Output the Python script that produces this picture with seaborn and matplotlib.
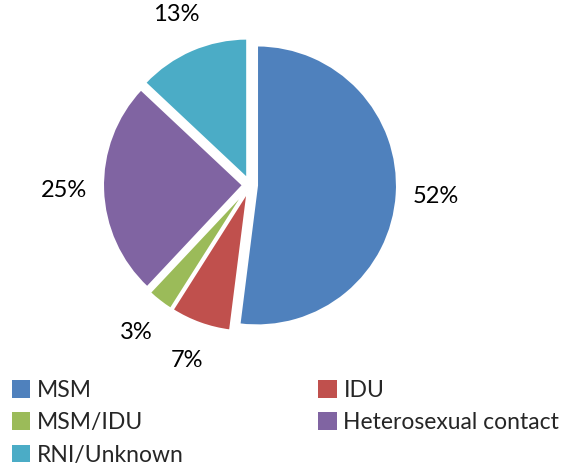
import matplotlib
matplotlib.use("Agg")
import matplotlib.pyplot as plt
from matplotlib.patches import Patch
import seaborn as sns

# data
groups = ["MSM", "IDU", "MSM/IDU", "Heterosexual contact", "RNI/Unknown"]
shares = [52, 7, 3, 25, 13]
colors = ["#4F81BD", "#C0504D", "#9BBB59", "#8064A2", "#4BACC6"]

sns.set_theme(style="white")
plt.rcParams['font.family'] = ['Lato', 'DejaVu Sans']

fig = plt.figure(figsize=(5.7, 4.68), dpi=100)
W, H = 570, 468
cx, cy, r = 250, 185, 140
half = 1.3 * r
ax = fig.add_axes([(cx - half) / W, (H - cy - half) / H, 2 * half / W, 2 * half / H])

pal = sns.color_palette(colors)
wedges, texts, autotexts = ax.pie(
    shares, colors=pal, startangle=90, counterclock=False,
    explode=[0.05] * len(shares),
    autopct=lambda p: f"{p:.0f}%", pctdistance=1.28,
    wedgeprops=dict(edgecolor="white", linewidth=1.5),
    textprops=dict(fontsize=17, color="black"),
)
ax.set_xlim(-1.3, 1.3)
ax.set_ylim(-1.3, 1.3)
ax.set_aspect("equal")
ax.axis("off")

order = [0, 2, 4, 1, 3]
handles = [Patch(facecolor=colors[i], edgecolor="none") for i in order]
labels = [groups[i] for i in order]
fig.legend(handles, labels, ncol=2, loc="upper left", bbox_to_anchor=(-0.003, 1 - 366 / H),
           frameon=False, fontsize=16.5, handlelength=0.8, handleheight=0.8,
           handletextpad=0.3, labelspacing=0.5, columnspacing=5.85, borderaxespad=0.2)

fig.savefig("out.png", dpi=100)
